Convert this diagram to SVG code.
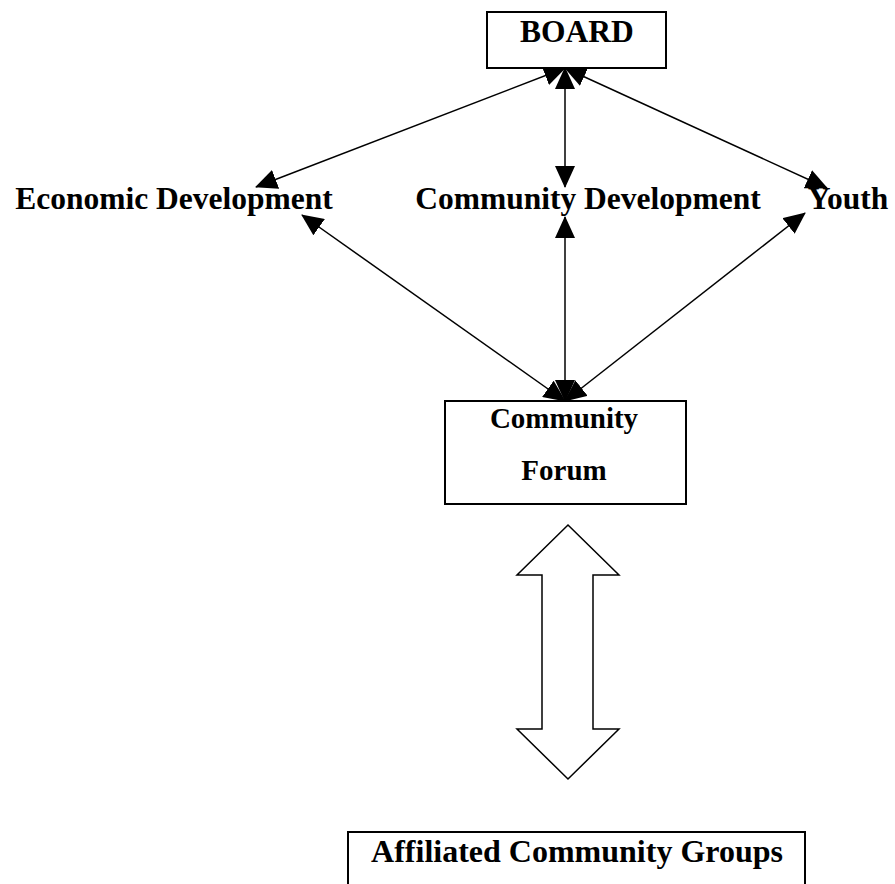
<svg xmlns="http://www.w3.org/2000/svg" width="895" height="884" viewBox="0 0 895 884">
<style>
.box{fill:#fff;stroke:#000;stroke-width:2}
.t{font-family:"Liberation Serif","Times New Roman",serif;font-weight:bold;fill:#000;text-anchor:middle}
.c{stroke:#000;stroke-width:1.5;fill:none;marker-start:url(#ah);marker-end:url(#ah)}
</style>
<defs>
<marker id="ah" markerUnits="userSpaceOnUse" markerWidth="22" markerHeight="20" refX="21" refY="10" orient="auto-start-reverse" viewBox="0 0 22 20">
<path d="M0,0 L22,10 L0,20 z" fill="#000"/>
</marker>
</defs>
<rect width="895" height="884" fill="#fff"/>
<g id="connectors">
<line class="c" x1="565" y1="68" x2="256" y2="187"/>
<line class="c" x1="565" y1="68" x2="565" y2="187"/>
<line class="c" x1="565" y1="68" x2="827" y2="188"/>
<line class="c" x1="565" y1="401" x2="302" y2="215"/>
<line class="c" x1="565" y1="401" x2="565" y2="217"/>
<line class="c" x1="565" y1="401" x2="805" y2="213"/>
<polygon points="568,525 619,575 593,575 593,729 619,729 568,779 517,729 542,729 542,575 517,575" fill="#fff" stroke="#000" stroke-width="1.5"/>
</g>
<g id="board">
<rect class="box" x="487" y="12" width="179" height="56"/>
<text class="t" x="577" y="42" font-size="31.5">BOARD</text>
</g>
<g id="econ">
<text class="t" x="174" y="209" font-size="31.5">Economic Development</text>
</g>
<g id="commdev">
<text class="t" x="588" y="209" font-size="31.5">Community Development</text>
</g>
<g id="youth">
<text class="t" x="848" y="209" font-size="31.5">Youth</text>
</g>
<g id="forum">
<rect class="box" x="445" y="401" width="241" height="103"/>
<text class="t" x="564" y="428" font-size="29">Community</text>
<text class="t" x="564" y="480" font-size="29">Forum</text>
</g>
<g id="affiliated">
<rect class="box" x="348" y="832" width="457" height="70"/>
<text class="t" x="577" y="862" font-size="32">Affiliated Community Groups</text>
</g>
</svg>
